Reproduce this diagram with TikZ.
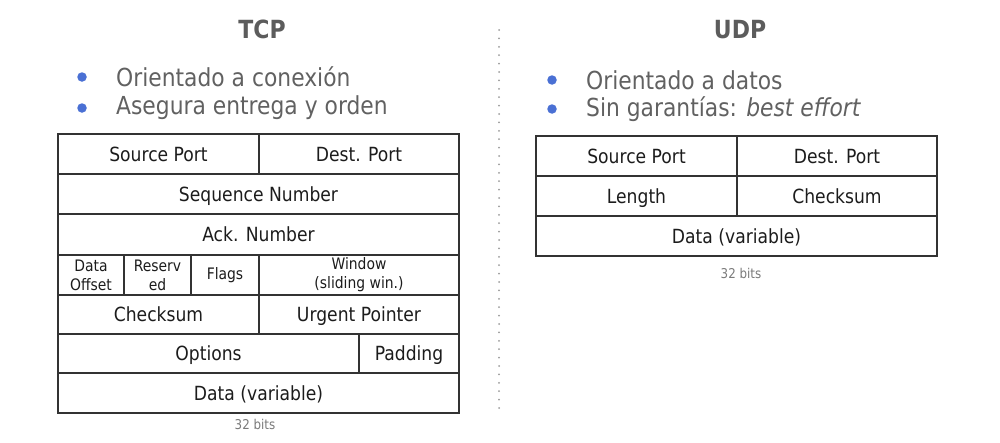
\documentclass[tikz,border=0pt]{standalone}
\usepackage{fontspec}
\setmainfont{DejaVu Sans}[FakeStretch=0.88]
\definecolor{titlegray}{HTML}{5C5C5C}
\definecolor{bodygray}{HTML}{616161}
\definecolor{bulletblue}{HTML}{4A70D4}
\definecolor{gridline}{HTML}{333333}
\definecolor{celltext}{HTML}{1C1C1C}
\definecolor{notegray}{HTML}{7A7A7A}
\definecolor{sepgray}{HTML}{9A9A9A}

% One header field: [extra style] name, x-left, x-right, y-top, y-bottom, label
\newcommand\hdrfield[7][]{%
  \node[field, minimum width={(#4-#3)*1pt}, minimum height={(#6-#5)*1pt}, #1]
    (#2) at ({(#3+#4)/2},{(#5+#6)/2}) {#7};}

\begin{document}
\begin{tikzpicture}[x=1pt,y=-1pt,
  field/.style={draw=gridline, line width=1.8pt, rectangle, inner sep=0pt,
    align=center, text=celltext, font=\fontsize{19.5}{21}\selectfont,
    text height=18pt, text depth=4pt},
  smallfield/.style={text height={}, text depth={},
    font=\fontsize{15.8}{18.8}\selectfont},
  title/.style={text=titlegray, font=\fontsize{25}{28}\selectfont\bfseries},
  bullettext/.style={text=bodygray, anchor=west, inner sep=0pt,
    font=\fontsize{24.8}{28}\selectfont},
  dot/.style={circle, fill=bulletblue, inner sep=0pt, minimum size=9.5pt},
  bitsnote/.style={text=notegray, font=\fontsize{13.5}{15}\selectfont},
  separator/.style={draw=sepgray, line width=2pt, line cap=round,
    dash pattern=on 0pt off 8.4pt}]
\useasboundingbox (0,0) rectangle (1000,442);

% ---- TCP ----
\node[title] (tcptitle) at (262,29) {TCP};
\node[dot] (tcpb1) at (82,77) {};
\node[bullettext] (tcpt1) at (116,77) {Orientado a conexión};
\node[dot] (tcpb2) at (82,108) {};
\node[bullettext] (tcpt2) at (116,108) {Asegura entrega y orden};

\hdrfield{tsrc}{58}{259}{134}{174}{Source Port}
\hdrfield{tdst}{259}{459}{134}{174}{Dest. Port}
\hdrfield{tseq}{58}{459}{174}{214}{Sequence Number}
\hdrfield{tack}{58}{459}{214}{255}{Ack. Number}
\hdrfield[smallfield]{toff}{58}{124}{255}{295}{Data\\Offset}
\hdrfield[smallfield]{tres}{124}{191}{255}{295}{Reserv\\ed}
\hdrfield[smallfield]{tflg}{191}{259}{255}{295}{Flags}
\hdrfield[smallfield]{twin}{259}{459}{255}{295}{Window\\(sliding win.)}
\hdrfield{tchk}{58}{259}{295}{334}{Checksum}
\hdrfield{turg}{259}{459}{295}{334}{Urgent Pointer}
\hdrfield{topt}{58}{359}{334}{373}{Options}
\hdrfield{tpad}{359}{459}{334}{373}{Padding}
\hdrfield{tdat}{58}{459}{373}{413}{Data (variable)}
\node[bitsnote] (tbits) at (255,424) {32 bits};

% ---- separator ----
\coordinate (septop) at (499,30);
\coordinate (sepbot) at (499,416);
\draw[separator] (septop) -- (sepbot);

% ---- UDP ----
\node[title] (udptitle) at (740,30) {UDP};
\node[dot] (udpb1) at (552,80) {};
\node[bullettext] (udpt1) at (586,80) {Orientado a datos};
\node[dot] (udpb2) at (552,109) {};
\node[bullettext] (udpt2) at (586,109) {Sin garantías: \itshape best effort};

\hdrfield{usrc}{536}{737}{136}{176}{Source Port}
\hdrfield{udst}{737}{937}{136}{176}{Dest. Port}
\hdrfield{ulen}{536}{737}{176}{216}{Length}
\hdrfield{uchk}{737}{937}{176}{216}{Checksum}
\hdrfield{udat}{536}{937}{216}{256}{Data (variable)}
\node[bitsnote] (ubits) at (741,273) {32 bits};
\end{tikzpicture}
\end{document}
